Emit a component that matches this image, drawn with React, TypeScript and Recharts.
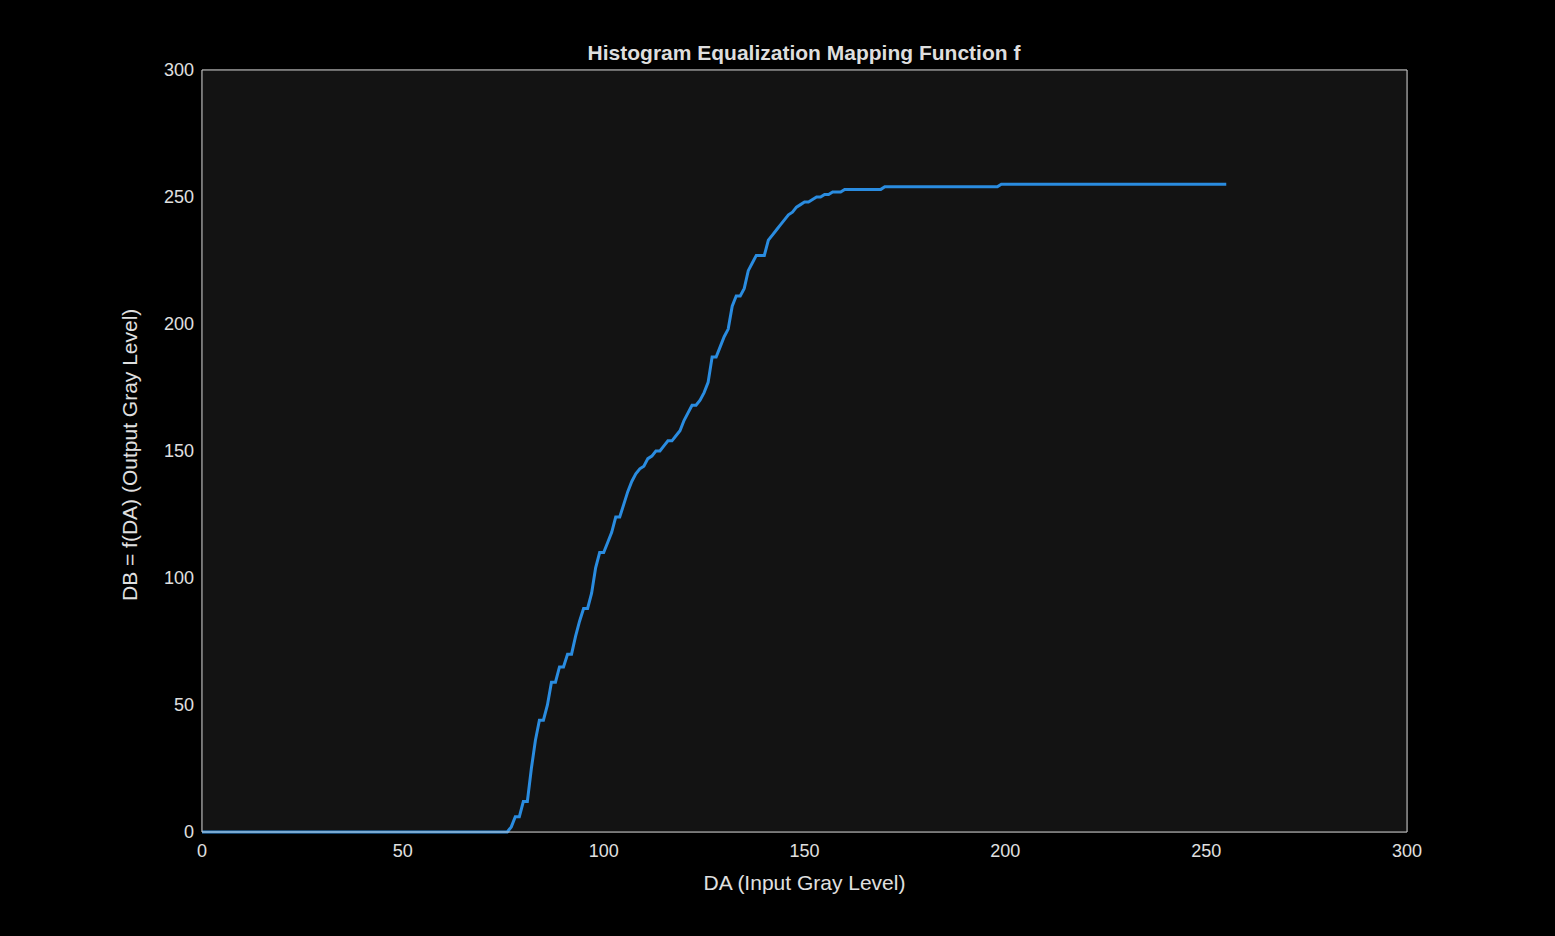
import React from 'react';
import { LineChart, Line, XAxis, YAxis, CartesianGrid, ReferenceLine } from 'recharts';

// Input gray level breakpoints and mapped output levels
const inputLevels: number[] = [
  0, 76, 77, 78, 79, 80, 81, 82, 83, 84, 85, 86, 87, 88, 89, 90, 91, 92, 93, 94, 95, 96, 97, 98, 99,
  100, 101, 102, 103, 104, 105, 106, 107, 108, 109, 110, 111, 112, 113, 114, 115, 116, 117, 118, 119,
  120, 121, 122, 123, 124, 125, 126, 127, 128, 129, 130, 131, 132, 133, 134, 135, 136, 137, 138, 139,
  140, 141, 142, 143, 144, 145, 146, 147, 148, 149, 150, 151, 152, 153, 154, 155, 156, 157, 158, 159,
  160, 169, 170, 198, 199, 255,
];
const outputLevels: number[] = [
  0, 0, 2, 6, 6, 12, 12, 25, 36, 44, 44, 50, 59, 59, 65, 65, 70, 70, 77, 83, 88, 88, 94, 104, 110,
  110, 114, 118, 124, 124, 129, 134, 138, 141, 143, 144, 147, 148, 150, 150, 152, 154, 154, 156, 158,
  162, 165, 168, 168, 170, 173, 177, 187, 187, 191, 195, 198, 207, 211, 211, 214, 221, 224, 227, 227,
  227, 233, 235, 237, 239, 241, 243, 244, 246, 247, 248, 248, 249, 250, 250, 251, 251, 252, 252, 252,
  253, 253, 254, 254, 255, 255,
];
const xTicks = [0, 50, 100, 150, 200, 250, 300];
const yTicks = [0, 50, 100, 150, 200, 250, 300];

const data = inputLevels.map((da, i) => ({ da, db: outputLevels[i] }));

const font = '"Liberation Sans", Arial, sans-serif';
const axisColor = '#c8c8c8';
const tickStyle = { fill: '#e0e0e0', fontSize: 18, fontFamily: font };

export default function App() {
  return (
    <div style={{ position: 'absolute', left: 0, top: 0, width: 1555, height: 936, background: '#000' }}>
      <div style={{ position: 'absolute', left: 0, top: 41, width: 1608, textAlign: 'center', color: '#dedede', fontFamily: font, fontWeight: 'bold', fontSize: 21 }}>
        Histogram Equalization Mapping Function f
      </div>
      <LineChart width={1555} height={936} data={data} margin={{ top: 70, right: 148, bottom: 44, left: 142 }}>
        <rect x={202} y={70} width={1205} height={762} fill="#131313" />
        <CartesianGrid stroke="#5a5a5a" strokeWidth={1} />
        <XAxis dataKey="da" type="number" domain={[0, 300]} ticks={xTicks} stroke={axisColor}
          tick={tickStyle} tickSize={0} tickMargin={12} height={60}
          label={{ value: 'DA (Input Gray Level)', position: 'insideBottom', offset: 2, fill: '#e0e0e0', fontSize: 21, fontFamily: font }} />
        <YAxis type="number" domain={[0, 300]} ticks={yTicks} stroke={axisColor}
          tick={tickStyle} tickSize={0} tickMargin={8} width={60}
          label={{ value: 'DB = f(DA) (Output Gray Level)', angle: -90, position: 'insideLeft', offset: -12, dy: 150, fill: '#e0e0e0', fontSize: 21, fontFamily: font }} />
        <ReferenceLine y={300} stroke={axisColor} />
        <ReferenceLine x={300} stroke={axisColor} />
        <Line type="linear" dataKey="db" stroke="#2a8ce0" strokeWidth={3} dot={false} isAnimationActive={false} />
      </LineChart>
    </div>
  );
}
